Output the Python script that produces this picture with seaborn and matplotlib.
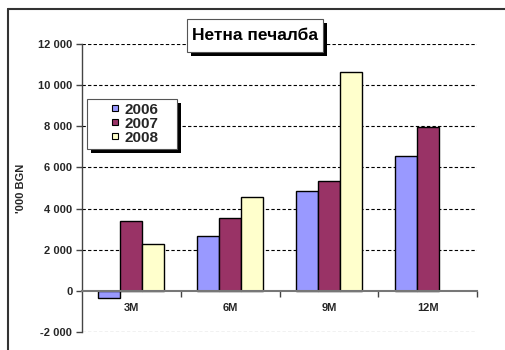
import matplotlib
matplotlib.use("Agg")
import matplotlib.pyplot as plt
from matplotlib.lines import Line2D
from matplotlib.patches import Rectangle
from matplotlib.ticker import FuncFormatter, FixedLocator
import seaborn as sns
import pandas as pd

# Net profit by reporting period, thousand BGN
periods = ["3M", "6M", "9M", "12M"]
years = ["2006", "2007", "2008"]
profit_2006 = [-357, 2643, 4865, 6551]
profit_2007 = [3373, 3519, 5319, 7962]
profit_2008 = [2270, 4540, 10621, None]
colors = ["#9999FF", "#993366", "#FFFFCC"]

rows = []
for year, vals in zip(years, [profit_2006, profit_2007, profit_2008]):
    for p, v in zip(periods, vals):
        if v is not None:
            rows.append({"period": p, "year": year, "value": v})
df = pd.DataFrame(rows)

sns.set_theme(style="white")
plt.rcParams["font.family"] = ["Liberation Sans", "DejaVu Sans"]
plt.rcParams["font.weight"] = "bold"

W, H = 506, 350
fig = plt.figure(figsize=(W / 100, H / 100), dpi=100)
ax = fig.add_axes([82 / W, 1 - 332 / H, (477 - 82) / W, (332 - 44) / H])

sns.barplot(data=df, x="period", y="value", hue="year", order=periods,
            hue_order=years, palette=colors, edgecolor="black", linewidth=1.0,
            width=0.67, saturation=1, ax=ax, legend=False)

ax.set_xlim(-0.5, 3.5)
ax.set_ylim(-2000, 12000)
ax.set_yticks(range(-2000, 12001, 2000))
ax.yaxis.set_major_formatter(FuncFormatter(lambda v, _: f"{int(v):,}".replace(",", " ")))

# dashed grid lines except at zero, where the category axis sits
for y in range(-2000, 12001, 2000):
    if y != 0:
        ax.axhline(y, color="black", linestyle=(0, (3, 2)), linewidth=0.8, zorder=0)

for side in ["top", "right"]:
    ax.spines[side].set_visible(False)
ax.spines["left"].set_color("#444444")
ax.spines["left"].set_linewidth(1.0)
ax.spines["bottom"].set_position(("data", 0))
ax.spines["bottom"].set_color("#777777")
ax.spines["bottom"].set_linewidth(1.5)
ax.spines["bottom"].set_zorder(5)

ax.tick_params(axis="y", left=True, length=4, width=1, color="#444444",
               labelsize=8, pad=3)
ax.tick_params(axis="x", which="major", length=0, labelsize=8, pad=9)
ax.xaxis.set_minor_locator(FixedLocator([0.5, 1.5, 2.5, 3.5]))
ax.tick_params(axis="x", which="minor", bottom=True, length=4, width=1, color="#444444",
               direction="out")
for lbl in ax.get_xticklabels() + ax.get_yticklabels():
    lbl.set_fontweight("bold")

ax.set_xlabel("")
ax.set_ylabel("'000 BGN", fontsize=8, fontweight="bold", labelpad=9)


def boxed(x0, y0, x1, y1, z):
    """White box with a black drop shadow, given in pixel coordinates from the top-left."""
    fig.add_artist(Rectangle(((x0 + 4) / W, 1 - (y1 + 4) / H), (x1 - x0) / W, (y1 - y0) / H,
                             transform=fig.transFigure, facecolor="black",
                             edgecolor="none", zorder=z))
    fig.add_artist(Rectangle((x0 / W, 1 - y1 / H), (x1 - x0) / W, (y1 - y0) / H,
                             transform=fig.transFigure, facecolor="white",
                             edgecolor="#555555", linewidth=0.8, zorder=z + 0.1))


# legend box
boxed(87, 99, 177, 149, 10)
handles = [Line2D([], [], marker="s", linestyle="none", markersize=5,
                  markerfacecolor=c, markeredgecolor="black", markeredgewidth=0.8)
           for c in colors]
leg = fig.legend(handles, years, loc="upper left",
                 bbox_to_anchor=(110 / W, 1 - 102.5 / H),
                 frameon=False, prop={"weight": "bold", "size": 11},
                 handlelength=0.6, handleheight=0.7, handletextpad=0.35,
                 labelspacing=0.0, borderpad=0.0, borderaxespad=0)
leg.set_zorder(11)

# boxed title
boxed(187, 19, 323, 52, 20)
fig.text(255 / W, 1 - 36 / H, "Нетна печалба", color="black", ha="center", va="center",
         fontsize=12.5, fontweight="bold", zorder=21)

# outer frame around the chart
fx, fy = 8 / W, 1 - 9 / H
fig.add_artist(Line2D([fx, fx], [0, fy], color="#333333", linewidth=1.5))
fig.add_artist(Line2D([fx, 1], [fy, fy], color="#333333", linewidth=1.5))

fig.savefig("out.png", dpi=100)
